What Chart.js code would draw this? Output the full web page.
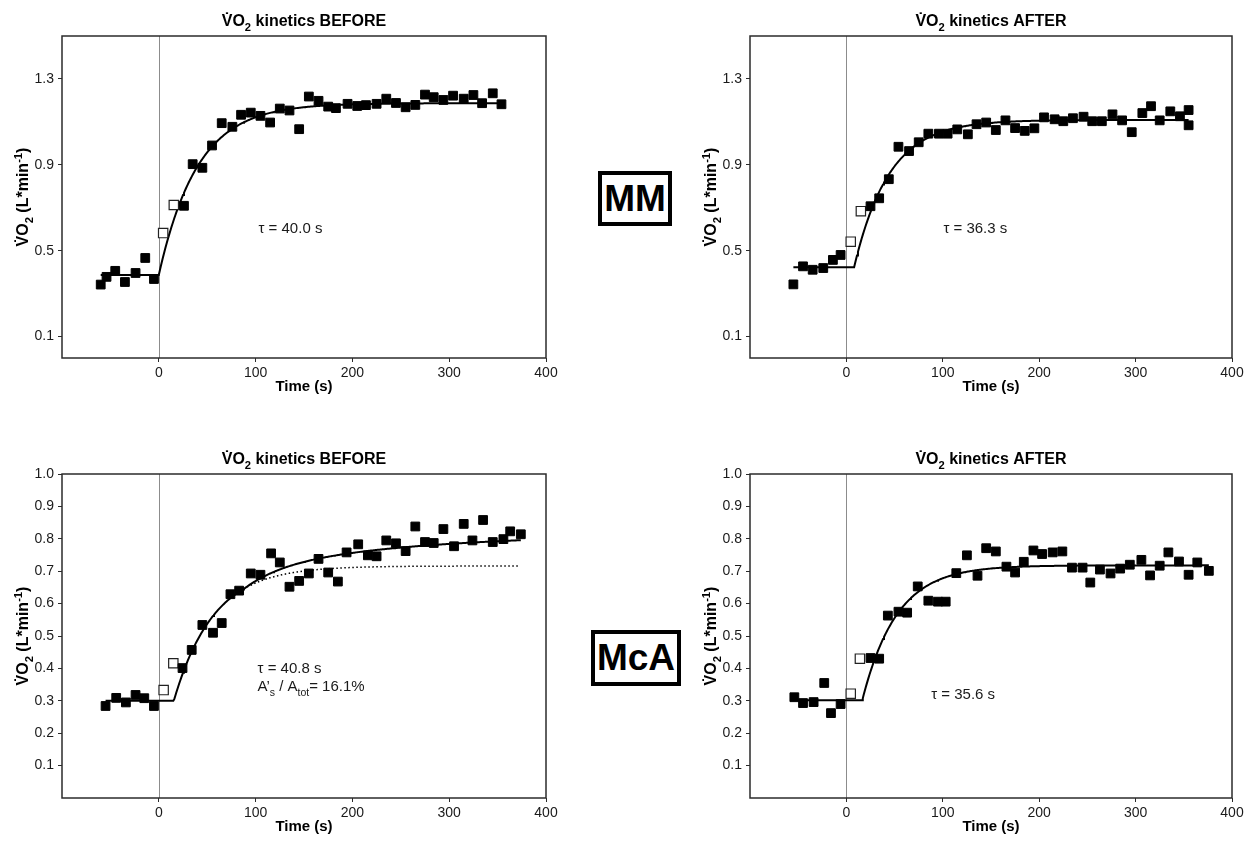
<!DOCTYPE html>
<html>
<head>
<meta charset="utf-8">
<script src="https://cdn.jsdelivr.net/npm/chart.js@4.4.1/dist/chart.umd.min.js"></script>
<style>
  body { margin: 0; background: #fff; width: 1256px; height: 843px; position: relative; overflow: hidden; }
  canvas { position: absolute; }
  .tag {
    position: absolute; box-sizing: border-box; border: 4px solid #000;
    font: bold 37px "Liberation Sans", Arial, sans-serif; text-align: center; color: #000;
  }
</style>
</head>
<body>
<canvas id="mmBefore" width="580" height="421" style="left:0;top:0"></canvas>
<canvas id="mmAfter" width="568" height="421" style="left:688px;top:0"></canvas>
<canvas id="mcaBefore" width="580" height="405" style="left:0;top:438px"></canvas>
<canvas id="mcaAfter" width="568" height="405" style="left:688px;top:438px"></canvas>
<div class="tag" style="left:598px;top:171px;width:74px;height:55px;line-height:47px">MM</div>
<div class="tag" style="left:591px;top:630px;width:90px;height:56px;line-height:48px">McA</div>
<script>
const FONT = '"Liberation Sans", Arial, sans-serif';

// time axis (s)
const timeTicks = [0, 100, 200, 300, 400];
const vo2TicksMM = [0.1, 0.5, 0.9, 1.3];
const vo2TicksMcA = [0.1, 0.2, 0.3, 0.4, 0.5, 0.6, 0.7, 0.8, 0.9, 1.0];

// MM, before
const mmBeforeTime = [-60, -54, -45, -35, -24, -14, -5, 26, 35, 45, 55, 65, 76, 85, 95, 105, 115, 125, 135, 145,
  155, 165, 175, 183, 195, 205, 214, 225, 235, 245, 255, 265, 275, 284, 294, 304, 315, 325, 334, 345, 354];
const mmBeforeVO2 = [0.342, 0.378, 0.406, 0.354, 0.396, 0.466, 0.368, 0.709, 0.903, 0.886, 0.990, 1.094, 1.077,
  1.133, 1.143, 1.128, 1.097, 1.162, 1.153, 1.066, 1.218, 1.198, 1.171, 1.164, 1.184, 1.174, 1.178, 1.184, 1.208,
  1.188, 1.168, 1.179, 1.227, 1.215, 1.202, 1.222, 1.208, 1.225, 1.187, 1.233, 1.182];
const mmBeforeExclTime = [4.5, 15.5];
const mmBeforeExclVO2 = [0.582, 0.713];
const mmBeforeFit = { base: 0.387, amp: 0.80, delay: 0, tau: 40.0, from: -60, to: 354 };

// MM, after
const mmAfterTime = [-55, -45, -35, -24, -14, -6, 25, 34, 44, 54, 65, 75, 85, 96, 105, 115, 126, 135, 145, 155,
  165, 175, 185, 195, 205, 216, 225, 235, 246, 255, 265, 276, 286, 296, 307, 316, 325, 336, 346, 355, 355];
const mmAfterVO2 = [0.343, 0.427, 0.411, 0.419, 0.457, 0.480, 0.707, 0.744, 0.833, 0.984, 0.964, 1.005, 1.045,
  1.045, 1.045, 1.065, 1.042, 1.089, 1.097, 1.062, 1.107, 1.071, 1.058, 1.070, 1.121, 1.112, 1.103, 1.117, 1.124,
  1.103, 1.103, 1.135, 1.107, 1.052, 1.141, 1.173, 1.107, 1.149, 1.126, 1.155, 1.084];
const mmAfterExclTime = [4.5, 15];
const mmAfterExclVO2 = [0.542, 0.684];
const mmAfterFit = { base: 0.423, amp: 0.686, delay: 8, tau: 36.3, from: -55, to: 355 };

// McA, before
const mcaBeforeTime = [-55, -44, -34, -24, -15, -5, 24.5, 34, 45, 56, 65, 74, 83, 95, 105, 116, 125, 135, 145, 155,
  165, 175, 185, 194, 206, 216, 225, 235, 245, 255, 265, 275, 284, 294, 305, 315, 324, 335, 345, 356, 363, 374];
const mcaBeforeVO2 = [0.284, 0.309, 0.295, 0.318, 0.308, 0.284, 0.401, 0.457, 0.534, 0.510, 0.540, 0.629, 0.640,
  0.693, 0.689, 0.755, 0.727, 0.652, 0.670, 0.693, 0.738, 0.696, 0.668, 0.758, 0.783, 0.749, 0.746, 0.795, 0.786,
  0.762, 0.838, 0.790, 0.787, 0.830, 0.777, 0.846, 0.795, 0.858, 0.790, 0.799, 0.823, 0.814];
const mcaBeforeExclTime = [5, 15];
const mcaBeforeExclVO2 = [0.333, 0.416];
const mcaBeforeFit = { base: 0.300, amp: 0.416, delay: 15.5, tau: 40.8, from: -55, to: 374 };
// slow component: share of the total amplitude, onset and shape constant
const mcaBeforeSlow = { share: 0.161, delay: 88, tau: 200, dottedTo: 372 };

// McA, after
const mcaAfterTime = [-54, -45, -34, -23, -16, -6, 25, 34, 43, 54, 63, 74, 85, 95, 103, 114, 125, 136, 145, 155,
  166, 175, 184, 194, 203, 214, 224, 234, 245, 253, 263, 274, 284, 294, 306, 315, 325, 334, 345, 355, 364, 376];
const mcaAfterVO2 = [0.311, 0.293, 0.296, 0.355, 0.262, 0.290, 0.432, 0.430, 0.563, 0.575, 0.572, 0.653, 0.609,
  0.606, 0.606, 0.694, 0.749, 0.686, 0.771, 0.761, 0.714, 0.696, 0.729, 0.764, 0.753, 0.758, 0.761, 0.711, 0.711,
  0.665, 0.705, 0.693, 0.708, 0.720, 0.735, 0.687, 0.717, 0.758, 0.730, 0.689, 0.727, 0.701];
const mcaAfterExclTime = [4.5, 14];
const mcaAfterExclVO2 = [0.322, 0.430];
const mcaAfterFit = { base: 0.302, amp: 0.416, delay: 16.5, tau: 35.6, from: -45, to: 376 };

function toPoints(xs, ys) {
  return xs.map((x, i) => ({ x: x, y: ys[i] }));
}

function primary(p, t) {
  if (t <= p.delay) return p.base;
  return p.base + p.amp * (1 - Math.exp(-(t - p.delay) / p.tau));
}

function slowPart(p, s, t) {
  if (t <= s.delay) return 0;
  const endPrimary = p.amp * (1 - Math.exp(-(p.to - p.delay) / p.tau));
  const endSlow = s.share / (1 - s.share) * endPrimary;
  return endSlow * (1 - Math.exp(-(t - s.delay) / s.tau)) / (1 - Math.exp(-(p.to - s.delay) / s.tau));
}

function sampleTimes(from, to, delay) {
  const ts = [];
  for (let t = from; t < to; t += 1) ts.push(t);
  ts.push(to);
  if (delay > from && delay < to) ts.push(delay);
  return ts.sort((a, b) => a - b);
}

function fitCurve(p, slow) {
  return sampleTimes(p.from, p.to, p.delay).map(t => ({
    x: t,
    y: primary(p, t) + (slow ? slowPart(p, slow, t) : 0)
  }));
}

function dottedCurve(p, s) {
  return sampleTimes(s.delay - 4, s.dottedTo, p.delay).map(t => ({ x: t, y: primary(p, t) }));
}

// text made of runs, some of them sub- or superscript
function runsWidth(ctx, runs, size, weight) {
  let w = 0;
  runs.forEach(([txt, pos]) => {
    ctx.font = `${weight} ${pos ? size * 0.7 : size}px ${FONT}`;
    w += ctx.measureText(txt).width;
  });
  return w;
}

function drawRuns(ctx, runs, x, y, size, weight, align) {
  let cx = align === 'center' ? x - runsWidth(ctx, runs, size, weight) / 2 : x;
  ctx.textAlign = 'left';
  ctx.textBaseline = 'alphabetic';
  runs.forEach(([txt, pos]) => {
    ctx.font = `${weight} ${pos ? size * 0.7 : size}px ${FONT}`;
    const dy = pos === 'sub' ? size * 0.3 : pos === 'sup' ? -size * 0.4 : 0;
    ctx.fillText(txt, cx, y + dy);
    cx += ctx.measureText(txt).width;
  });
}

const yTitle = [['V\u0307O'], ['2', 'sub'], [' (L*min'], ['-1', 'sup'], [')']];
const xTitle = [['Time (s)']];

function panelPlugin(titleWord, notes) {
  return {
    id: 'panel',
    beforeDatasetsDraw(chart) {
      const { ctx, chartArea: a, scales } = chart;
      const px = Math.round(scales.x.getPixelForValue(0)) + 0.5;
      ctx.save();
      ctx.strokeStyle = '#8c8c8c';
      ctx.lineWidth = 1;
      ctx.beginPath();
      ctx.moveTo(px, a.top);
      ctx.lineTo(px, a.bottom);
      ctx.stroke();
      ctx.restore();
    },
    afterDraw(chart) {
      const { ctx, chartArea: a, scales } = chart;
      ctx.save();
      ctx.strokeStyle = '#2b2b2b';
      ctx.lineWidth = 1.5;
      ctx.strokeRect(a.left, a.top, a.right - a.left, a.bottom - a.top);

      ctx.fillStyle = '#000';
      const midX = (a.left + a.right) / 2;
      drawRuns(ctx, [['V\u0307O'], ['2', 'sub'], [' kinetics ' + titleWord]], midX, a.top - 10, 16, 'bold', 'center');
      drawRuns(ctx, xTitle, midX, a.bottom + 33, 15, 'bold', 'center');

      ctx.save();
      ctx.translate(28, (a.top + a.bottom) / 2);
      ctx.rotate(-Math.PI / 2);
      drawRuns(ctx, yTitle, 0, 0, 16, 'bold', 'center');
      ctx.restore();

      ctx.fillStyle = '#1a1a1a';
      notes.forEach(n => {
        drawRuns(ctx, n.runs, scales.x.getPixelForValue(n.x), scales.y.getPixelForValue(n.y), 15, 'normal', 'left');
      });
      ctx.restore();
    }
  };
}

function makePanel(id, opts) {
  const tickFont = { family: FONT, size: 14 };
  const datasets = [
    {
      label: 'measured',
      data: toPoints(opts.time, opts.vo2),
      pointStyle: 'rect', pointRadius: 6.2, borderWidth: 1,
      backgroundColor: '#000', borderColor: '#000', showLine: false, order: 1
    },
    {
      label: 'excluded',
      data: toPoints(opts.exclTime, opts.exclVO2),
      pointStyle: 'rect', pointRadius: 6.6, borderWidth: 1.2,
      backgroundColor: '#fff', borderColor: '#222', showLine: false, order: 2
    },
    {
      label: 'fit',
      data: fitCurve(opts.fit, opts.slow),
      showLine: true, pointRadius: 0, borderColor: '#000', borderWidth: 2, tension: 0, order: 4
    }
  ];
  if (opts.slow) {
    datasets.push({
      label: 'primary',
      data: dottedCurve(opts.fit, opts.slow),
      showLine: true, pointRadius: 0, borderColor: '#000', borderWidth: 1.5,
      borderDash: [1.5, 2.5], tension: 0, order: 3
    });
  }

  return new Chart(document.getElementById(id), {
    type: 'scatter',
    data: { datasets: datasets },
    options: {
      responsive: false,
      animation: false,
      events: [],
      layout: { padding: opts.padding },
      plugins: { legend: { display: false }, tooltip: { enabled: false }, title: { display: false } },
      scales: {
        x: {
          type: 'linear', min: -100, max: 400,
          afterBuildTicks: axis => { axis.ticks = timeTicks.map(v => ({ value: v })); },
          afterFit: axis => { axis.height = 45; },
          ticks: { font: tickFont, color: '#1a1a1a', padding: 3, callback: v => String(v) },
          grid: { drawOnChartArea: false, drawTicks: true, tickLength: 4, color: '#2b2b2b' },
          border: { display: false }
        },
        y: {
          type: 'linear', min: 0, max: opts.yMax,
          afterBuildTicks: axis => { axis.ticks = opts.yTicks.map(v => ({ value: v })); },
          afterFit: axis => { axis.width = 62; },
          ticks: { font: tickFont, color: '#1a1a1a', padding: 4, callback: v => v.toFixed(1) },
          grid: { drawOnChartArea: false, drawTicks: true, tickLength: 4, color: '#2b2b2b' },
          border: { display: false }
        }
      }
    },
    plugins: [panelPlugin(opts.title, opts.notes)]
  });
}

makePanel('mmBefore', {
  time: mmBeforeTime, vo2: mmBeforeVO2, exclTime: mmBeforeExclTime, exclVO2: mmBeforeExclVO2,
  fit: mmBeforeFit, yMax: 1.5, yTicks: vo2TicksMM, title: 'BEFORE',
  padding: { left: 0, top: 36, right: 34, bottom: 18 },
  notes: [{ x: 103, y: 0.58, runs: [['\u03c4 = ' + mmBeforeFit.tau.toFixed(1) + ' s']] }]
});

makePanel('mmAfter', {
  time: mmAfterTime, vo2: mmAfterVO2, exclTime: mmAfterExclTime, exclVO2: mmAfterExclVO2,
  fit: mmAfterFit, yMax: 1.5, yTicks: vo2TicksMM, title: 'AFTER',
  padding: { left: 0, top: 36, right: 24, bottom: 18 },
  notes: [{ x: 100.6, y: 0.583, runs: [['\u03c4 = ' + mmAfterFit.tau.toFixed(1) + ' s']] }]
});

makePanel('mcaBefore', {
  time: mcaBeforeTime, vo2: mcaBeforeVO2, exclTime: mcaBeforeExclTime, exclVO2: mcaBeforeExclVO2,
  fit: mcaBeforeFit, slow: mcaBeforeSlow, yMax: 1.0, yTicks: vo2TicksMcA, title: 'BEFORE',
  padding: { left: 0, top: 36, right: 34, bottom: 0 },
  notes: [
    { x: 102, y: 0.385, runs: [['\u03c4 = ' + mcaBeforeFit.tau.toFixed(1) + ' s']] },
    { x: 102, y: 0.33, runs: [['A\u2019'], ['s', 'sub'], [' / A'], ['tot', 'sub'], ['= ' + (mcaBeforeSlow.share * 100).toFixed(1) + '%']] }
  ]
});

makePanel('mcaAfter', {
  time: mcaAfterTime, vo2: mcaAfterVO2, exclTime: mcaAfterExclTime, exclVO2: mcaAfterExclVO2,
  fit: mcaAfterFit, yMax: 1.0, yTicks: vo2TicksMcA, title: 'AFTER',
  padding: { left: 0, top: 36, right: 24, bottom: 0 },
  notes: [{ x: 88, y: 0.305, runs: [['\u03c4 = ' + mcaAfterFit.tau.toFixed(1) + ' s']] }]
});
</script>
</body>
</html>
